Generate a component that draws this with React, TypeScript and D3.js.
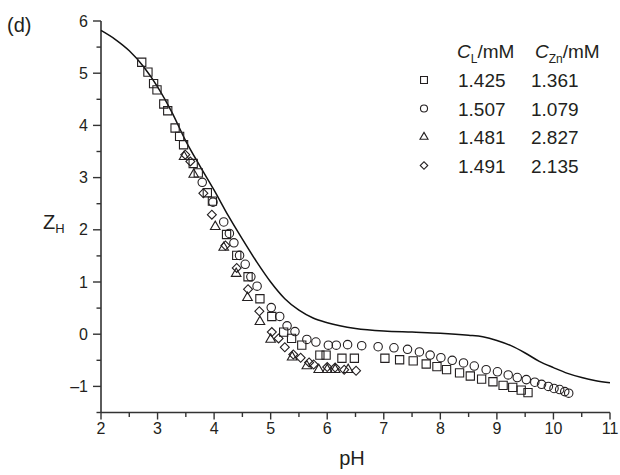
import React from "react";
import * as d3 from "d3";

const xTicks = [2, 3, 4, 5, 6, 7, 8, 9, 10, 11];
const yTicks = [-1, 0, 1, 2, 3, 4, 5, 6];

const curvePH = [2.0, 2.25, 2.5, 2.75, 3.0, 3.25, 3.5, 3.75, 4.0, 4.25, 4.5, 4.75, 5.0, 5.25, 5.5, 5.75, 6.0, 6.5, 7.0, 7.5, 8.0, 8.5, 8.75, 9.0, 9.25, 9.5, 9.75, 10.0, 10.25, 10.5, 10.75, 11.0];
const curveZ = [5.82, 5.65, 5.43, 5.13, 4.74, 4.26, 3.7, 3.22, 2.76, 2.27, 1.82, 1.39, 1.0, 0.68, 0.46, 0.31, 0.22, 0.11, 0.06, 0.04, 0.02, -0.02, -0.05, -0.12, -0.22, -0.36, -0.52, -0.64, -0.75, -0.83, -0.89, -0.93];

const squarePH = [2.72, 2.83, 2.93, 2.99, 3.11, 3.18, 3.31, 3.39, 3.46, 3.63, 3.72, 3.88, 3.97, 4.22, 4.4, 4.6, 4.81, 5.02, 5.23, 5.37, 5.55, 5.87, 5.98, 6.26, 6.48, 7.02, 7.28, 7.52, 7.75, 7.94, 8.11, 8.34, 8.53, 8.73, 8.93, 9.11, 9.28, 9.43, 9.55];
const squareZ = [5.21, 5.02, 4.8, 4.68, 4.41, 4.28, 3.95, 3.79, 3.63, 3.27, 3.09, 2.71, 2.55, 1.91, 1.51, 1.1, 0.68, 0.34, 0.04, -0.08, -0.21, -0.4, -0.4, -0.46, -0.46, -0.46, -0.49, -0.51, -0.57, -0.62, -0.68, -0.74, -0.8, -0.86, -0.91, -0.98, -1.02, -1.07, -1.12];

const circlePH = [3.79, 3.98, 4.17, 4.27, 4.35, 4.45, 4.55, 4.65, 4.76, 5.01, 5.16, 5.29, 5.43, 5.64, 5.8, 6.02, 6.16, 6.36, 6.61, 6.9, 7.18, 7.42, 7.63, 7.82, 8.01, 8.21, 8.41, 8.6, 8.81, 9.01, 9.2, 9.36, 9.52, 9.67, 9.79, 9.91, 10.01, 10.11, 10.2, 10.27];
const circleZ = [2.91, 2.53, 2.15, 1.93, 1.75, 1.51, 1.34, 1.1, 0.92, 0.51, 0.34, 0.16, 0.05, -0.1, -0.15, -0.21, -0.21, -0.2, -0.22, -0.24, -0.26, -0.29, -0.34, -0.4, -0.45, -0.5, -0.55, -0.61, -0.68, -0.72, -0.78, -0.83, -0.87, -0.92, -0.96, -1.0, -1.04, -1.06, -1.1, -1.13];

const trianglePH = [3.47, 3.64, 4.02, 4.17, 4.39, 4.59, 4.81, 5.0, 5.38, 5.64, 5.85, 6.0, 6.14, 6.37];
const triangleZ = [3.4, 3.06, 2.06, 1.66, 1.16, 0.7, 0.24, -0.1, -0.44, -0.61, -0.68, -0.68, -0.68, -0.68];

const diamondPH = [3.49, 3.58, 3.81, 3.96, 4.2, 4.4, 4.6, 4.8, 5.02, 5.14, 5.25, 5.4, 5.53, 5.68, 5.76, 6.0, 6.14, 6.3, 6.51];
const diamondZ = [3.44, 3.31, 2.7, 2.29, 1.7, 1.27, 0.86, 0.44, 0.04, -0.08, -0.25, -0.39, -0.45, -0.54, -0.58, -0.63, -0.64, -0.68, -0.7];

const legendCL = ["1.425", "1.507", "1.481", "1.491"];
const legendCZn = ["1.361", "1.079", "2.827", "2.135"];
const legendShapes = ["square", "circle", "triangle", "diamond"];

const FONT = "'Liberation Sans', Arial, Helvetica, sans-serif";
const INK = "#231f20";

function shapePath(kind: string, scale: number) {
  if (kind === "square") return d3.symbol(d3.symbolSquare, 68 * scale)()!;
  if (kind === "circle") return d3.symbol(d3.symbolCircle, 56 * scale)()!;
  if (kind === "triangle") return d3.symbol(d3.symbolTriangle, 40 * scale)()!;
  return d3.symbol(d3.symbolSquare, 40 * scale)()!;
}

function Marker({ kind, x, y, scale = 1 }: { kind: string; x: number; y: number; scale?: number }) {
  const rot = kind === "diamond" ? " rotate(45)" : "";
  return (
    <path
      d={shapePath(kind, scale)}
      transform={`translate(${x},${y})${rot}`}
      fill="none"
      stroke={INK}
      strokeWidth={1.1}
    />
  );
}

export default function App() {
  const x = d3.scaleLinear().domain([2, 11]).range([101, 610]);
  const y = d3.scaleLinear().domain([-1.5, 6]).range([412.5, 21]);

  const curveData = curvePH.map((p, i) => [p, curveZ[i]] as [number, number]);
  const line = d3
    .line<[number, number]>()
    .x((d) => x(d[0]))
    .y((d) => y(d[1]))
    .curve(d3.curveMonotoneX);

  const series = [
    { kind: "square", ph: squarePH, z: squareZ },
    { kind: "circle", ph: circlePH, z: circleZ },
    { kind: "triangle", ph: trianglePH, z: triangleZ },
    { kind: "diamond", ph: diamondPH, z: diamondZ },
  ];

  const xMinor = d3.range(2.5, 11, 1);
  const yMinor = d3.range(-1.5, 6, 1);

  return (
    <svg
      width={620}
      height={475}
      style={{ position: "absolute", left: 0, top: 0, background: "#fff" }}
      fontFamily={FONT}
    >
      <rect x={0} y={0} width={620} height={475} fill="#fff" />
      {/* axes */}
      <line x1={x(2)} x2={x(2)} y1={y(6)} y2={y(-1.5)} stroke="#333" strokeWidth={1.6} />
      <line x1={x(2)} x2={x(11)} y1={y(-1.5)} y2={y(-1.5)} stroke="#333" strokeWidth={1.6} />
      {yTicks.map((t) => (
        <g key={"yt" + t}>
          <line x1={x(2) - 8} x2={x(2)} y1={y(t)} y2={y(t)} stroke="#333" strokeWidth={1.4} />
          <text x={x(2) - 13} y={y(t) + 5.5} textAnchor="end" fontSize={16} fill={INK}>
            {t < 0 ? "\u2013" + Math.abs(t) : String(t)}
          </text>
        </g>
      ))}
      {yMinor.map((t) => (
        <line key={"ym" + t} x1={x(2) - 4.5} x2={x(2)} y1={y(t)} y2={y(t)} stroke="#333" strokeWidth={1.4} />
      ))}
      {xTicks.map((t) => (
        <g key={"xt" + t}>
          <line x1={x(t)} x2={x(t)} y1={y(-1.5)} y2={y(-1.5)} stroke="#333" strokeWidth={1.4} />
          <line x1={x(t)} x2={x(t)} y1={y(-1.5)} y2={y(-1.5) + 7} stroke="#333" strokeWidth={1.4} />
          <text x={x(t)} y={y(-1.5) + 21} textAnchor="middle" fontSize={16} fill={INK}>
            {String(t)}
          </text>
        </g>
      ))}
      {xMinor.map((t) => (
        <line key={"xm" + t} x1={x(t)} x2={x(t)} y1={y(-1.5)} y2={y(-1.5) + 4.5} stroke="#333" strokeWidth={1.4} />
      ))}

      {/* model curve */}
      <path d={line(curveData)!} fill="none" stroke="#111" strokeWidth={1.5} />

      {/* data */}
      {series.map((s) =>
        s.ph.map((p, i) => <Marker key={s.kind + i} kind={s.kind} x={x(p)} y={y(s.z[i])} />)
      )}

      {/* labels */}
      <text x={7} y={32} fontSize={20} fill={INK}>(d)</text>
      <text x={352} y={465} textAnchor="middle" fontSize={20} fill={INK}>pH</text>
      <text x={43} y={229} fontSize={20} fill={INK}>
        Z<tspan fontSize={13} dy={4}>H</tspan>
      </text>

      {/* legend */}
      <text x={457} y={58} fontSize={19} fill={INK}>
        <tspan fontStyle="italic">C</tspan>
        <tspan fontSize={12} dy={5}>L</tspan>
        <tspan dy={-5}>/mM</tspan>
      </text>
      <text x={535} y={58} fontSize={19} fill={INK}>
        <tspan fontStyle="italic">C</tspan>
        <tspan fontSize={12} dy={5}>Zn</tspan>
        <tspan dy={-5}>/mM</tspan>
      </text>
      {legendCL.map((v, i) => {
        const by = 87 + i * 28.5;
        return (
          <g key={"lg" + i}>
            <Marker kind={legendShapes[i]} x={424} y={by - 7} scale={0.7} />
            <text x={458} y={by} fontSize={19} fill={INK}>{v}</text>
            <text x={531} y={by} fontSize={19} fill={INK}>{legendCZn[i]}</text>
          </g>
        );
      })}
    </svg>
  );
}
